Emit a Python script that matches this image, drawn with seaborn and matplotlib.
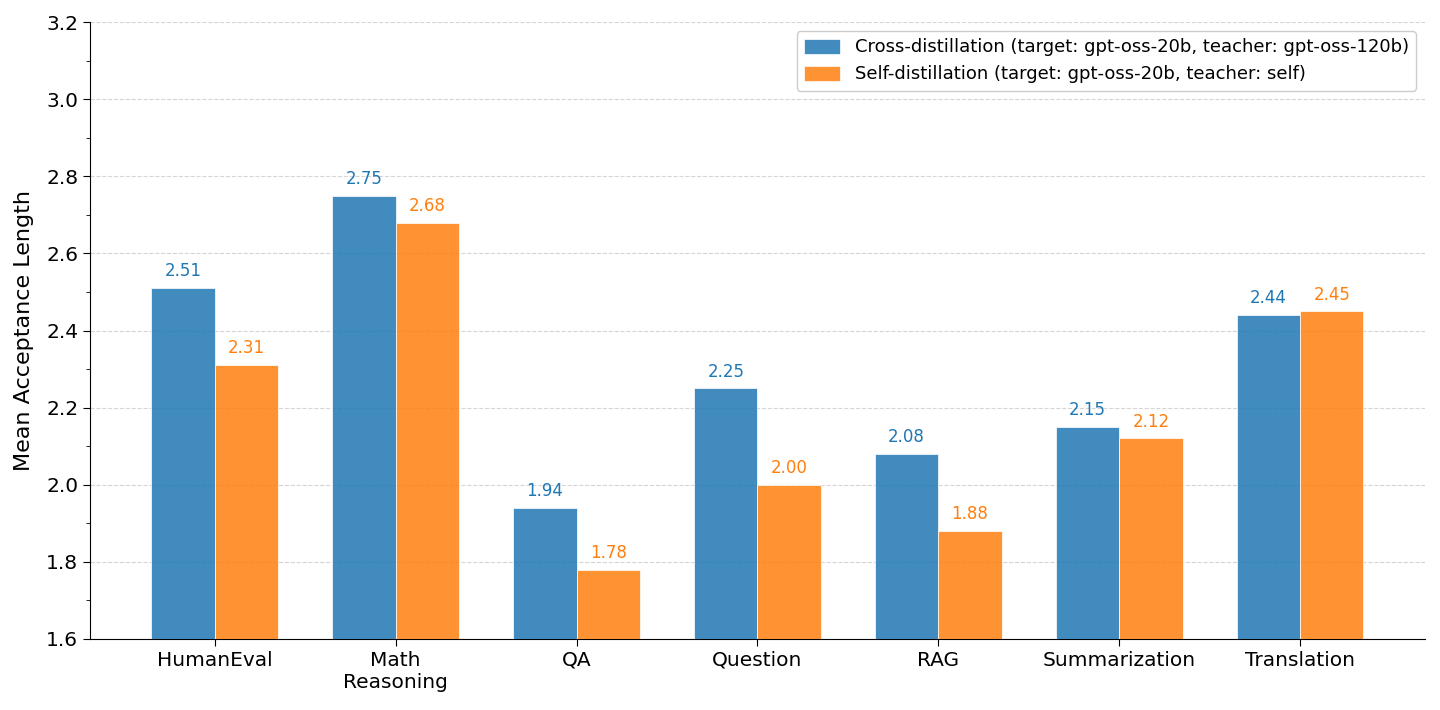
import numpy as np
import pandas as pd
import matplotlib
matplotlib.use("Agg")
import matplotlib.pyplot as plt
import seaborn as sns
from matplotlib.ticker import MultipleLocator

tasks = ["HumanEval", "Math\nReasoning", "QA", "Question", "RAG", "Summarization", "Translation"]
cross_vals = [2.51, 2.75, 1.94, 2.25, 2.08, 2.15, 2.44]
self_vals = [2.31, 2.68, 1.78, 2.00, 1.88, 2.12, 2.45]
series = ["Cross-distillation (target: gpt-oss-20b, teacher: gpt-oss-120b)",
          "Self-distillation (target: gpt-oss-20b, teacher: self)"]
colors = ["#1f77b4", "#ff7f0e"]

df = pd.DataFrame({
    "task": tasks * 2,
    "value": cross_vals + self_vals,
    "method": [series[0]] * len(tasks) + [series[1]] * len(tasks),
})

plt.rcParams["font.family"] = ["DejaVu Sans"]

fig = plt.figure(figsize=(14.4, 7.1), dpi=100)
ax = fig.add_axes([0.0625, 0.1, 0.927, 0.869])

sns.barplot(data=df, x="task", y="value", hue="method", palette=colors,
            width=0.7, alpha=0.85, gap=0, saturation=1, linewidth=0.6,
            edgecolor="white", ax=ax, zorder=3, errorbar=None)

x = np.arange(len(tasks))
for i in range(len(tasks)):
    ax.text(x[i] - 0.175, cross_vals[i] + 0.02, f"{cross_vals[i]:.2f}",
            ha="center", va="bottom", fontsize=12, color=colors[0])
    ax.text(x[i] + 0.175, self_vals[i] + 0.02, f"{self_vals[i]:.2f}",
            ha="center", va="bottom", fontsize=12, color=colors[1])

ax.set_xlim(-0.69, len(tasks) - 1 + 0.69)
ax.set_ylim(1.6, 3.2)
ax.yaxis.set_major_locator(MultipleLocator(0.2))
ax.yaxis.set_minor_locator(MultipleLocator(0.1))
ax.tick_params(axis="y", which="major", length=5, labelsize=14.5)
ax.tick_params(axis="y", which="minor", length=3)
ax.tick_params(axis="x", length=5, labelsize=14.5)
ax.set_xlabel("")
ax.set_ylabel("Mean Acceptance Length", fontsize=16, labelpad=9)
ax.grid(axis="y", linestyle="--", color="#c8c8c8", alpha=0.75, zorder=0)
ax.set_axisbelow(True)
sns.despine(ax=ax)

ax.legend(loc="upper right", fontsize=13, frameon=True, framealpha=1,
          edgecolor="#cccccc", handleheight=0.9)

fig.savefig("out.png", dpi=100)
